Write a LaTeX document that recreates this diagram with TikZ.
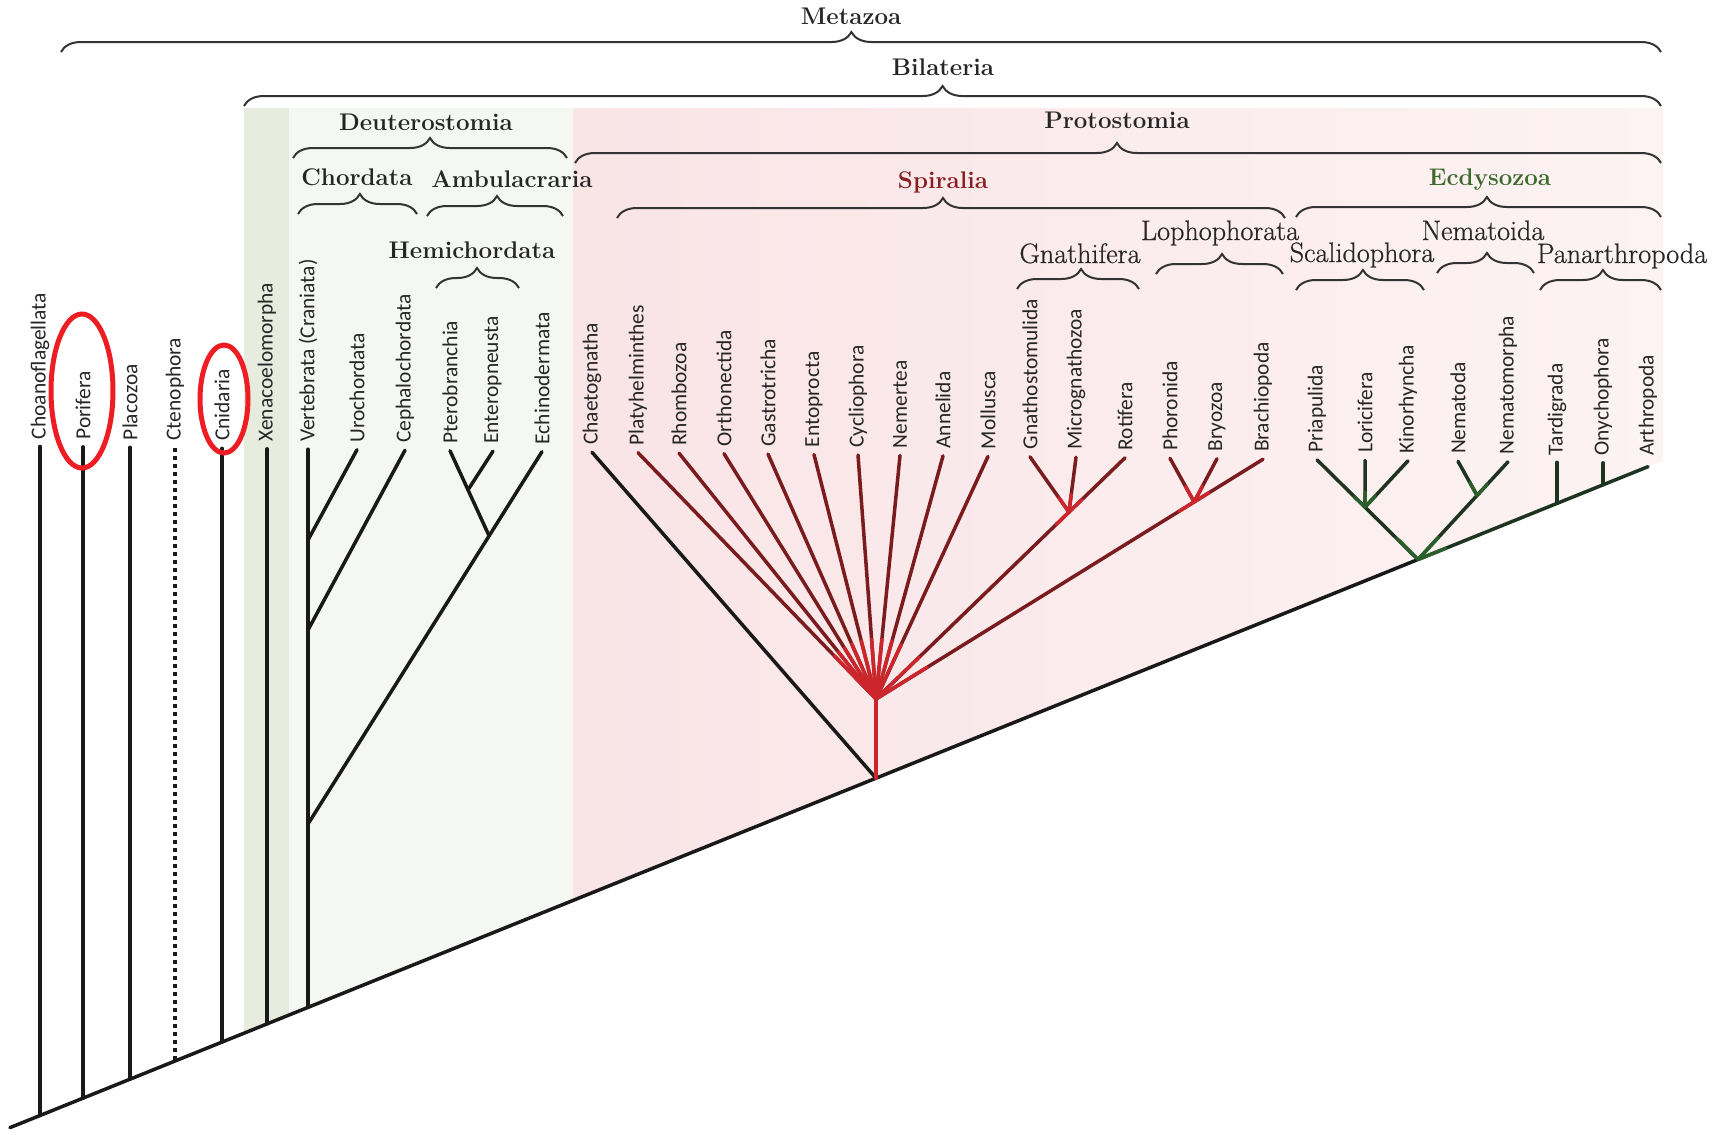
\documentclass[tikz,border=0pt]{standalone}
\usepackage{fontspec}
\newfontfamily\taxonfont{Carlito}
\newfontfamily\cladefont[FakeBold=0.6]{Latin Modern Roman}
\usetikzlibrary{calc, decorations.pathreplacing}
\definecolor{spiralred}{HTML}{7A1C1E}
\definecolor{spiralhot}{HTML}{CC262C}
\definecolor{ecdygreen}{HTML}{1E3320}
\definecolor{ecdyhot}{HTML}{2A5E2A}
\definecolor{ringred}{HTML}{EE1D23}
\definecolor{protopink}{HTML}{F9E4E6}
\definecolor{protopale}{HTML}{FDF3F3}
\definecolor{xenoband}{HTML}{E8ECDF}
\definecolor{deutwash}{HTML}{F5F7F2}
\definecolor{spirallabel}{HTML}{8A1F22}
\definecolor{ecdylabel}{HTML}{3D6A2C}
% height of the stem line below a given x (picture pixels)
\pgfmathdeclarefunction{basey}{1}{\pgfmathparse{1127.6-0.4035*(#1-10)}}

\begin{document}
\begin{tikzpicture}[x=0.2mm, y=-0.2mm,
  branch/.style={line width=0.7mm, line cap=round, black!90},
  dotbranch/.style={line width=0.7mm, black!90, dash pattern=on 0.9mm off 0.7mm},
  spiralbranch/.style={line width=0.7mm, line cap=round, spiralred},
  spiralglow/.style={line width=0.7mm, line cap=round, spiralhot},
  ecdybranch/.style={line width=0.7mm, line cap=round, ecdygreen},
  ecdyglow/.style={line width=0.7mm, line cap=round, ecdyhot},
  taxon/.style={rotate=90, anchor=west, inner sep=0pt, text=black!85,
    font=\taxonfont\fontsize{12.2}{13}\selectfont},
  cladebold/.style={anchor=base, inner sep=0pt, text=black!85,
    font=\fontsize{13.7}{15}\selectfont\bfseries},
  cladethin/.style={anchor=base, inner sep=0pt, text=black!85,
    font=\cladefont\fontsize{16}{18}\selectfont},
  cladebrace/.style={decorate, decoration={brace, amplitude=4mm, aspect=#1},
    line width=0.4mm, black!80},
  cladebrace/.default=0.5,
  ring/.style={ringred, line width=1mm}]
  \useasboundingbox (0,0) rectangle (1727,1134);

  % Shaded bands
  \fill[xenoband] (244,108) -- (289,108) -- (289,{basey(289)}) -- (244,{basey(244)}) -- cycle;
  \fill[deutwash] (289,108) -- (573,108) -- (573,{basey(573)}) -- (289,{basey(289)}) -- cycle;
  \shade[left color=protopink, right color=protopale]
    (573,108) -- (1663,108) -- (1663,{basey(1663)}) -- (573,{basey(573)}) -- cycle;

  % Taxa
  \foreach \id/\nm/\x in {choano/Choanoflagellata/40, porif/Porifera/83, placo/Placozoa/130,
      cteno/Ctenophora/175, cnid/Cnidaria/222, xeno/Xenacoelomorpha/267,
      verte/Vertebrata (Craniata)/308, uro/Urochordata/357, cephal/Cephalochordata/405,
      ptero/Pterobranchia/450, entero/Enteropneusta/493, echino/Echinodermata/542,
      chaeto/Chaetognatha/592, platy/Platyhelminthes/638, rhombo/Rhombozoa/679,
      ortho/Orthonectida/724, gastro/Gastrotricha/768, ento/Entoprocta/814,
      cyclio/Cycliophora/858, nemert/Nemertea/900, annel/Annelida/943,
      mollu/Mollusca/988, gnatho/Gnathostomulida/1030, micro/Micrognathozoa/1076,
      roti/Rotifera/1125, phoro/Phoronida/1170, bryo/Bryozoa/1217,
      brachio/Brachiopoda/1263, priap/Priapulida/1317, lori/Loricifera/1365,
      kino/Kinorhyncha/1408, nemato/Nematoda/1458, nematom/Nematomorpha/1508,
      tardi/Tardigrada/1557, onych/Onychophora/1603, arthro/Arthropoda/1648}
  {
    \node[taxon] (\id) at (\x,{439+0.0105*\x}) {\nm};
    \coordinate (t-\id) at (\x,{446+0.0105*\x});
    \coordinate (b-\id) at (\x,{basey(\x)});
  }

  % Inner nodes
  \coordinate (root) at (10,1127.6);
  \coordinate (deut) at (308,824);
  \coordinate (uroj) at (308,540);
  \coordinate (cephj) at (308,630);
  \coordinate (ambu) at ($(deut)!0.774!(t-echino)$);
  \coordinate (hemi) at ($(ambu)!0.54!(t-ptero)$);
  \coordinate (proto) at (876,{basey(876)});
  \coordinate (spir) at (876,699);
  \coordinate (gnath) at ($(spir)!0.775!(t-roti)$);
  \coordinate (loph) at ($(spir)!0.822!(t-brachio)$);
  \coordinate (ecdy) at (1418,{basey(1418)});
  \coordinate (scal) at ($(ecdy)!0.525!(t-priap)$);
  \coordinate (nema) at ($(ecdy)!0.656!(t-nematom)$);

  % Basal lineages and deuterostomes
  \draw[branch] (root) -- (ecdy);
  \foreach \id in {choano, porif, placo, cnid, xeno, verte}
    \draw[branch] (t-\id) -- (b-\id);
  \draw[dotbranch] (t-cteno) -- (b-cteno);
  \draw[branch] (t-uro) -- (uroj);
  \draw[branch] (t-cephal) -- (cephj);
  \draw[branch] (t-echino) -- (deut);
  \draw[branch] (t-ptero) -- (ambu);
  \draw[branch] (t-entero) -- (hemi);

  % Spiralia
  \draw[branch] (t-chaeto) -- (proto);
  \draw[spiralglow] (proto) -- (spir);
  \foreach \id in {platy, rhombo, ortho, gastro, ento, cyclio, nemert, annel, mollu, roti, brachio}
    \draw[spiralbranch] (spir) -- (t-\id);
  \draw[spiralbranch] (gnath) -- (t-gnatho);
  \draw[spiralbranch] (gnath) -- (t-micro);
  \draw[spiralbranch] (loph) -- (t-phoro);
  \draw[spiralbranch] (loph) -- (t-bryo);
  \foreach \id in {platy, rhombo, ortho, gastro, ento, cyclio, nemert, annel, mollu, roti, brachio}
    \draw[spiralglow] (spir) -- ($(spir)!12mm!(t-\id)$);
  \foreach \id in {gnatho, micro, roti}
    \draw[spiralglow] (gnath) -- ($(gnath)!3.5mm!(t-\id)$);
  \draw[spiralglow] (gnath) -- ($(gnath)!3.5mm!(spir)$);
  \foreach \id in {phoro, bryo, brachio}
    \draw[spiralglow] (loph) -- ($(loph)!3.5mm!(t-\id)$);
  \draw[spiralglow] (loph) -- ($(loph)!3.5mm!(spir)$);

  % Ecdysozoa
  \draw[ecdybranch] (ecdy) -- (b-arthro);
  \draw[ecdybranch] (ecdy) -- (t-priap);
  \draw[ecdybranch] (ecdy) -- (t-nematom);
  \draw[ecdybranch] (scal) -- (t-lori);
  \draw[ecdybranch] (scal) -- (t-kino);
  \draw[ecdybranch] (nema) -- (t-nemato);
  \draw[ecdybranch] (t-tardi) -- (b-tardi);
  \draw[ecdybranch] (t-onych) -- (b-onych);
  \draw[ecdyglow] (ecdy) -- ($(ecdy)!6mm!(t-priap)$);
  \draw[ecdyglow] (ecdy) -- ($(ecdy)!6mm!(t-nematom)$);
  \draw[ecdyglow] (ecdy) -- ($(ecdy)!6mm!(b-arthro)$);
  \foreach \id in {priap, lori, kino}
    \draw[ecdyglow] (scal) -- ($(scal)!3mm!(t-\id)$);
  \foreach \id in {nemato, nematom}
    \draw[ecdyglow] (nema) -- ($(nema)!3mm!(t-\id)$);

  % Clade braces
  \draw[cladebrace=0.494] (61,52) -- (1661,52);
  \draw[cladebrace=0.493] (244,106) -- (1661,106);
  \draw[cladebrace] (293,158) -- (567,158);
  \draw[cladebrace=0.499] (575,163) -- (1661,163);
  \draw[cladebrace=0.52] (298,214) -- (417,214);
  \draw[cladebrace=0.515] (427,216) -- (563,216);
  \draw[cladebrace=0.488] (617,218) -- (1285,218);
  \draw[cladebrace=0.523] (1296,217) -- (1661,217);
  \draw[cladebrace=0.494] (436,288) -- (519,288);
  \draw[cladebrace=0.525] (1017,289) -- (1139,289);
  \draw[cladebrace=0.52] (1156,274) -- (1283,274);
  \draw[cladebrace=0.523] (1296,290) -- (1424,290);
  \draw[cladebrace=0.515] (1437,273) -- (1534,273);
  \draw[cladebrace=0.52] (1540,290) -- (1661,290);

  % Clade names
  \node[cladebold] (metazoa) at (851,24) {Metazoa};
  \node[cladebold] (bilateria) at (943,75) {Bilateria};
  \node[cladebold] (deuterostomia) at (426,130) {Deuterostomia};
  \node[cladebold] (protostomia) at (1117,128) {Protostomia};
  \node[cladebold] (chordata) at (357,185) {Chordata};
  \node[cladebold] (ambulacraria) at (512,187) {Ambulacraria};
  \node[cladebold, text=spirallabel] (spiralia) at (943,188) {Spiralia};
  \node[cladebold, text=ecdylabel] (ecdysozoa) at (1490,185) {Ecdysozoa};
  \node[cladebold] (hemichordata) at (472,258) {Hemichordata};
  \node[cladethin] (gnathifera) at (1080,263) {Gnathifera};
  \node[cladethin] (lophophorata) at (1220,240) {Lophophorata};
  \node[cladethin] (scalidophora) at (1362,262) {Scalidophora};
  \node[cladethin] (nematoida) at (1483,240) {Nematoida};
  \node[cladethin] (panarthropoda) at (1622,263) {Panarthropoda};

  % Red rings
  \draw[ring] (82,391) ellipse [x radius=6.2mm, y radius=15.4mm];
  \draw[ring] (224,399) ellipse [x radius=4.8mm, y radius=10.8mm];
\end{tikzpicture}
\end{document}
